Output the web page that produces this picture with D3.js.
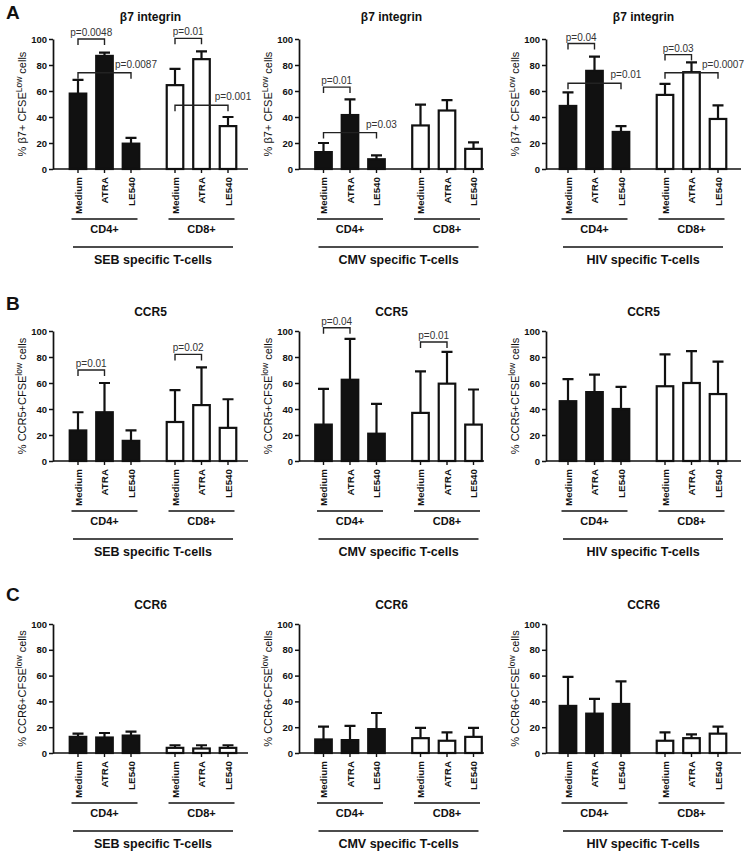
<!DOCTYPE html>
<html>
<head>
<meta charset="utf-8">
<script src="https://cdn.jsdelivr.net/npm/d3@7"></script>
<style>
  body { margin: 0; background: #fff; }
  svg text { font-family: "Liberation Sans", Arial, sans-serif; }
</style>
</head>
<body>
<div id="chart"></div>
<script>
// ---------------- data ----------------
const treatments = ["Medium", "ATRA", "LE540"];
const cellTypes = ["CD4+", "CD8+"];
const specificities = ["SEB", "CMV", "HIV"];
const markers = ["β7 integrin", "CCR5", "CCR6"];
const panelLetters = ["A", "B", "C"];
const yTicks = [0, 20, 40, 60, 80, 100];

// y-axis label pieces: before superscript, superscript, after
const yLabels = [
  ["% β7+ CFSE", "Low", " cells"],
  ["% CCR5+CFSE", "low", " cells"],
  ["% CCR6+CFSE", "low", " cells"]
];

// bars in order: CD4 Medium, ATRA, LE540, CD8 Medium, ATRA, LE540
// one row per specificity (SEB, CMV, HIV)
const b7Means = [
  [58, 87, 19.5, 64.5, 84.5, 33],
  [13, 41.5, 7.5, 33.5, 45, 15.5],
  [48.5, 75.5, 28.5, 57, 74.5, 38.5]
];
const b7Err = [
  [10.5, 2.5, 4.5, 12.5, 6, 7],
  [7, 12, 3, 16, 8, 5],
  [10.5, 11, 4.5, 8.5, 7.5, 10.5]
];
const ccr5Means = [
  [23.5, 37.5, 15.5, 30, 43, 25.5],
  [28, 62.5, 21, 37, 59.5, 28],
  [46, 53, 40, 57.5, 60, 51.5]
];
const ccr5Err = [
  [14, 22.5, 8, 24.5, 29, 22],
  [27.5, 31.5, 23, 32, 24.5, 27],
  [17, 13.5, 17, 24.5, 24.5, 25]
];
const ccr6Means = [
  [12.5, 12, 13.5, 4, 3.5, 4],
  [10.5, 10, 18.5, 11.5, 9.5, 12.5],
  [36.5, 30.5, 38, 9.5, 11.5, 15]
];
const ccr6Err = [
  [2.5, 3.5, 3, 2, 2.5, 2],
  [10, 11, 12.5, 8, 6.5, 7],
  [22.5, 11.5, 17.5, 6.5, 3, 5.5]
];

// significance brackets: [from bar, to bar, level (%), label]
const b7Pvals = [
  [[0, 1, 100, "p=0.0048"], [0, 2, 74, "p=0.0087"], [3, 4, 100.5, "p=0.01"], [3, 5, 49, "p=0.001"]],
  [[0, 1, 63, "p=0.01"], [0, 2, 28, "p=0.03"]],
  [[0, 1, 96.5, "p=0.04"], [0, 2, 66, "p=0.01"], [3, 4, 88, "p=0.03"], [3, 5, 74, "p=0.0007"]]
];
const ccr5Pvals = [
  [[0, 1, 70, "p=0.01"], [3, 4, 82, "p=0.02"]],
  [[0, 1, 102.5, "p=0.04"], [3, 4, 91.5, "p=0.01"]],
  []
];
const ccr6Pvals = [[], [], []];

const allMeans = [b7Means, ccr5Means, ccr6Means];
const allErr = [b7Err, ccr5Err, ccr6Err];
const allPvals = [b7Pvals, ccr5Pvals, ccr6Pvals];

// ---------------- layout ----------------
const width = 748;
const height = 855;

const colAxisX = [53, 299, 546];     // y axis position per column
const colEndX = [248, 484, 741];     // right end of x axis
const colGroupX = [104.5, 350, 594.5]; // centre of the CD4+ group
const groupStep = 97;

const rowY0 = [169, 461, 753];
const rowY100 = [39, 331, 624];
const rowTitleY = [21, 316, 609];
const rowLetterY = [19, 310, 601];

const ink = "#111";

const svg = d3.select("#chart").append("svg")
  .attr("width", width)
  .attr("height", height)
  .attr("viewBox", [0, 0, width, height]);

// inner band for the three treatments inside a group
const inner = d3.scaleBand()
  .domain(treatments)
  .range([-39.75, 39.75])
  .paddingInner(0.3)
  .paddingOuter(0.15);
const bw = inner.bandwidth();

function drawPanel(r, c) {
  const g = svg.append("g");
  const axisX = colAxisX[c];
  const y0 = rowY0[r];

  const y = d3.scaleLinear().domain([0, 100]).range([y0, rowY100[r]]);
  const group = d3.scalePoint()
    .domain(cellTypes)
    .range([colGroupX[c], colGroupX[c] + groupStep]);
  const cx = i => group(cellTypes[Math.floor(i / 3)]) + inner(treatments[i % 3]) + bw / 2;

  const means = allMeans[r][c];
  const errs = allErr[r][c];
  const bars = means.map((m, i) => ({ i, m, e: errs[i] }));

  // title
  g.append("text")
    .attr("x", (axisX + colEndX[c]) / 2)
    .attr("y", rowTitleY[r])
    .attr("text-anchor", "middle")
    .attr("font-size", 12)
    .attr("font-weight", "bold")
    .attr("fill", ink)
    .text(markers[r]);

  // y axis
  const yAxis = g.append("g")
    .attr("transform", `translate(${axisX},0)`)
    .call(d3.axisLeft(y).tickValues(yTicks).tickSize(4).tickSizeOuter(0).tickPadding(2));
  yAxis.select(".domain").attr("stroke", ink).attr("stroke-width", 1.7);
  yAxis.selectAll(".tick line").attr("stroke", ink).attr("stroke-width", 1.5);
  yAxis.selectAll(".tick text")
    .attr("font-family", "Liberation Sans, Arial, sans-serif")
    .attr("font-size", 9.5)
    .attr("font-weight", "bold")
    .attr("fill", ink);

  // y label with superscript
  const lbl = yLabels[r];
  const yl = g.append("text")
    .attr("transform", `translate(${axisX - 27},${(y(0) + y(100)) / 2}) rotate(-90)`)
    .attr("text-anchor", "middle")
    .attr("font-size", 11)
    .attr("fill", ink);
  yl.append("tspan").text(lbl[0]);
  yl.append("tspan").attr("dy", -4.5).attr("font-size", 8.5).text(lbl[1]);
  yl.append("tspan").attr("dy", 4.5).text(lbl[2]);

  // bars
  g.selectAll("rect.bar")
    .data(bars)
    .join("rect")
    .attr("class", "bar")
    .attr("x", d => cx(d.i) - bw / 2 + 1)
    .attr("width", bw - 2)
    .attr("y", d => y(d.m))
    .attr("height", d => y(0) - y(d.m))
    .attr("fill", d => d.i < 3 ? ink : "#fff")
    .attr("stroke", ink)
    .attr("stroke-width", 2.2);

  // error bars (upper only)
  g.selectAll("path.err")
    .data(bars)
    .join("path")
    .attr("class", "err")
    .attr("d", d => {
      const x = cx(d.i);
      const top = y(d.m + d.e);
      return `M${x},${y(d.m)}V${top}M${x - 5.5},${top}H${x + 5.5}`;
    })
    .attr("fill", "none")
    .attr("stroke", ink)
    .attr("stroke-width", 2.2);

  // x axis line + ticks
  g.append("line")
    .attr("x1", axisX).attr("x2", colEndX[c])
    .attr("y1", y0).attr("y2", y0)
    .attr("stroke", ink).attr("stroke-width", 1.7);
  g.selectAll("line.xtick")
    .data(bars)
    .join("line")
    .attr("class", "xtick")
    .attr("x1", d => cx(d.i)).attr("x2", d => cx(d.i))
    .attr("y1", y0).attr("y2", y0 + 4)
    .attr("stroke", ink).attr("stroke-width", 1.4);

  // treatment labels (rotated)
  g.selectAll("text.cat")
    .data(bars)
    .join("text")
    .attr("class", "cat")
    .attr("transform", d => `translate(${cx(d.i) + 3.5},${y0 + 8}) rotate(-90)`)
    .attr("text-anchor", "end")
    .attr("font-size", 9.8)
    .attr("font-weight", "bold")
    .attr("fill", ink)
    .text(d => treatments[d.i % 3]);

  // CD4+/CD8+ group lines
  cellTypes.forEach(ct => {
    const gx = group(ct);
    g.append("line")
      .attr("x1", gx - 33).attr("x2", gx + 33)
      .attr("y1", y0 + 50).attr("y2", y0 + 50)
      .attr("stroke", ink).attr("stroke-width", 1.6);
    g.append("text")
      .attr("x", gx).attr("y", y0 + 64)
      .attr("text-anchor", "middle")
      .attr("font-size", 11)
      .attr("font-weight", "bold")
      .attr("fill", ink)
      .text(ct);
  });

  // specificity line + label
  const mid = (group(cellTypes[0]) + group(cellTypes[1])) / 2;
  g.append("line")
    .attr("x1", mid - 80).attr("x2", mid + 80)
    .attr("y1", y0 + 78).attr("y2", y0 + 78)
    .attr("stroke", ink).attr("stroke-width", 1.6);
  g.append("text")
    .attr("x", mid).attr("y", y0 + 95)
    .attr("text-anchor", "middle")
    .attr("font-size", 12.5)
    .attr("font-weight", "bold")
    .attr("fill", ink)
    .text(specificities[c] + " specific T-cells");

  // significance brackets
  allPvals[r][c].forEach(([a, b, level, label]) => {
    const xa = cx(a), xb = cx(b), yl2 = y(level);
    g.append("path")
      .attr("d", `M${xa},${yl2 + 6}V${yl2}H${xb}V${yl2 + 6}`)
      .attr("fill", "none")
      .attr("stroke", "#222")
      .attr("stroke-width", 1.4);
    const longOne = b - a > 1;
    g.append("text")
      .attr("x", longOne ? xb + 5 : (xa + xb) / 2)
      .attr("y", longOne ? yl2 - 5 : yl2 - 3)
      .attr("text-anchor", "middle")
      .attr("font-size", 10)
      .attr("fill", "#333")
      .text(label);
  });
}

panelLetters.forEach((letter, r) => {
  svg.append("text")
    .attr("x", 6).attr("y", rowLetterY[r])
    .attr("font-size", 19)
    .attr("font-weight", "bold")
    .attr("fill", ink)
    .text(letter);
  specificities.forEach((s, c) => drawPanel(r, c));
});
</script>
</body>
</html>
